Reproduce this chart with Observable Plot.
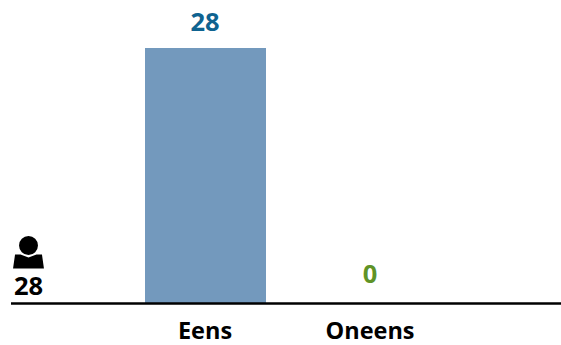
<!DOCTYPE html>
<html>
<head>
<meta charset="utf-8">
<script src="https://cdn.jsdelivr.net/npm/d3@7"></script>
<script src="https://cdn.jsdelivr.net/npm/@observablehq/plot@0.6"></script>
<style>
html,body{margin:0;padding:0;background:#fff}
svg{display:block}
</style>
</head>
<body>
<div id="chart"></div>
<script>
const categories = ["Eens", "Oneens"];
const counts = [28, 0];
const total = [28];
const barColor = "#7399bd";
const labelColors = ["#0f6390", "#5f9327"];
const fontFamily = "'Open Sans','Noto Sans',sans-serif";

const table = categories.map((c, i) => ({category: c, count: counts[i], color: labelColors[i]}));

const person = {
  draw(ctx, size) {
    const s = Math.sqrt(size) / 32;
    ctx.moveTo(9.5 * s, -15 * s);
    ctx.arc(0, -15 * s, 9.5 * s, 0, 2 * Math.PI);
    ctx.moveTo(-13.5 * s, -6 * s);
    ctx.lineTo(-8 * s, -6 * s);
    ctx.lineTo(0, -3 * s);
    ctx.lineTo(8 * s, -6 * s);
    ctx.lineTo(13.5 * s, -6 * s);
    ctx.lineTo(15.5 * s, 8 * s);
    ctx.lineTo(-15.5 * s, 8 * s);
    ctx.closePath();
  }
};

const plot = Plot.plot({
  width: 561,
  height: 345,
  marginLeft: 11,
  marginRight: 0,
  marginTop: 48,
  marginBottom: 42,
  style: {fontFamily, background: "#fff"},
  x: {domain: categories, range: [101, 475], padding: 0.2667, round: false, label: null, axis: null},
  y: {domain: [0, 28], label: null, axis: null},
  marks: [
    Plot.barY(table, {x: "category", y: "count", fill: barColor, inset: 0}),
    Plot.ruleY([0], {stroke: "#000", strokeWidth: 2.5}),
    Plot.text(table.filter(d => d.count > 0), {
      x: "category", y: "count", text: d => String(d.count), fill: "color",
      dx: -1, dy: -26, fontSize: 25.5, fontWeight: 700, fontFamily
    }),
    Plot.text(table.filter(d => d.count === 0), {
      x: "category", y: "count", text: d => String(d.count), fill: "color",
      dx: -1, dy: -29, fontSize: 25.5, fontWeight: 700, fontFamily
    }),
    Plot.axisX({
      anchor: "bottom", tickSize: 0, tickPadding: 19, label: null, dx: -1,
      fontSize: 23.5, fontWeight: 700, fill: "#000"
    }),
    Plot.text(total, {
      text: d => String(d), frameAnchor: "bottom-left", dx: 17, dy: -9,
      textAnchor: "middle", lineAnchor: "bottom", fontSize: 25.5, fontWeight: 700, fill: "#000", fontFamily
    }),
    Plot.dot(total, {
      frameAnchor: "bottom-left", dx: 17, dy: -43, symbol: person, r: 18, fill: "#000", stroke: null
    })
  ]
});
document.getElementById("chart").append(plot);
</script>
</body>
</html>
